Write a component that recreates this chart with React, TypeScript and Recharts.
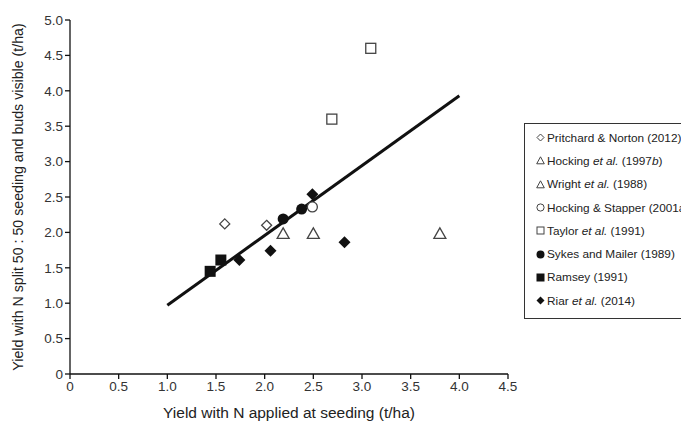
import React from 'react';
import { ScatterChart, Scatter, XAxis, YAxis } from 'recharts';

const xTicks = [0, 0.5, 1.0, 1.5, 2.0, 2.5, 3.0, 3.5, 4.0, 4.5];
const yTicks = [0, 0.5, 1.0, 1.5, 2.0, 2.5, 3.0, 3.5, 4.0, 4.5, 5.0];

const pritchard = [{ x: 1.59, y: 2.12 }, { x: 2.02, y: 2.1 }];
const hocking1997 = [{ x: 2.19, y: 1.98 }, { x: 2.5, y: 1.98 }];
const wright = [{ x: 3.8, y: 1.98 }];
const hockingStapper = [{ x: 2.49, y: 2.36 }];
const taylor = [{ x: 2.69, y: 3.6 }, { x: 3.09, y: 4.6 }];
const sykes = [{ x: 2.19, y: 2.19 }, { x: 2.38, y: 2.33 }];
const ramsey = [{ x: 1.44, y: 1.45 }, { x: 1.55, y: 1.61 }];
const riar = [{ x: 1.74, y: 1.61 }, { x: 2.06, y: 1.74 }, { x: 2.49, y: 2.54 }, { x: 2.82, y: 1.86 }];
const fitLine = [{ x: 1.0, y: 0.97 }, { x: 4.0, y: 3.93 }];

const OPEN = '#444';
const FILL = '#111';
const FONT = '"Liberation Sans", Arial, sans-serif';

const OpenDiamond = (p: any) => (
  <polygon points={`${p.cx},${p.cy - 5} ${p.cx + 5},${p.cy} ${p.cx},${p.cy + 5} ${p.cx - 5},${p.cy}`} fill="#fff" stroke={OPEN} strokeWidth={1.3} />
);
const OpenTriangle = (p: any) => (
  <polygon points={`${p.cx},${p.cy - 6} ${p.cx + 6},${p.cy + 4.5} ${p.cx - 6},${p.cy + 4.5}`} fill="#fff" stroke={OPEN} strokeWidth={1.3} />
);
const OpenCircle = (p: any) => <circle cx={p.cx} cy={p.cy} r={5} fill="#fff" stroke={OPEN} strokeWidth={1.3} />;
const OpenSquare = (p: any) => <rect x={p.cx - 5} y={p.cy - 5} width={10} height={10} fill="#fff" stroke={OPEN} strokeWidth={1.3} />;
const FilledCircle = (p: any) => <circle cx={p.cx} cy={p.cy} r={5.5} fill={FILL} />;
const FilledSquare = (p: any) => <rect x={p.cx - 5.5} y={p.cy - 5.5} width={11} height={11} fill={FILL} />;
const FilledDiamond = (p: any) => (
  <polygon points={`${p.cx},${p.cy - 6} ${p.cx + 6},${p.cy} ${p.cx},${p.cy + 6} ${p.cx - 6},${p.cy}`} fill={FILL} />
);
const NoShape = () => null;

const legendItems: { sym: string; label: React.ReactNode }[] = [
  { sym: 'od', label: <>Pritchard &amp; Norton (2012)</> },
  { sym: 'ot', label: <>Hocking <i>et al.</i> (1997<i>b</i>)</> },
  { sym: 'ot', label: <>Wright <i>et al.</i> (1988)</> },
  { sym: 'oc', label: <>Hocking &amp; Stapper (2001a)</> },
  { sym: 'os', label: <>Taylor <i>et al.</i> (1991)</> },
  { sym: 'fc', label: <>Sykes and Mailer (1989)</> },
  { sym: 'fs', label: <>Ramsey (1991)</> },
  { sym: 'fd', label: <>Riar <i>et al.</i> (2014)</> },
];

const LegendSym = ({ sym }: { sym: string }) => {
  const c = 4.5;
  let el: React.ReactNode = null;
  if (sym === 'od') el = <polygon points="4.5,1 8,4.5 4.5,8 1,4.5" fill="#fff" stroke={OPEN} strokeWidth={1} />;
  if (sym === 'ot') el = <polygon points="4.5,0.8 8.3,7.8 0.7,7.8" fill="#fff" stroke={OPEN} strokeWidth={1} />;
  if (sym === 'oc') el = <circle cx={c} cy={c} r={3.6} fill="#fff" stroke={OPEN} strokeWidth={1} />;
  if (sym === 'os') el = <rect x={1} y={1} width={7} height={7} fill="#fff" stroke={OPEN} strokeWidth={1} />;
  if (sym === 'fc') el = <circle cx={c} cy={c} r={4} fill={FILL} />;
  if (sym === 'fs') el = <rect x={0.5} y={0.5} width={8} height={8} fill={FILL} />;
  if (sym === 'fd') el = <polygon points="4.5,0.5 8.5,4.5 4.5,8.5 0.5,4.5" fill={FILL} />;
  return (
    <svg width={9} height={9} style={{ marginRight: 2, flexShrink: 0 }}>
      {el}
    </svg>
  );
};

const LegendBox = () => (
  <div
    style={{
      position: 'absolute',
      left: 524,
      top: 123,
      border: '1px solid #333',
      width: 190,
      height: 196,
      boxSizing: 'border-box',
      padding: '2px 0 0 11px',
      fontFamily: FONT,
      fontSize: 11.8,
      color: '#222',
      background: '#fff',
    }}
  >
    {legendItems.map((it, i) => (
      <div key={i} style={{ display: 'flex', alignItems: 'center', height: 23.3, whiteSpace: 'nowrap' }}>
        <LegendSym sym={it.sym} />
        <span>{it.label}</span>
      </div>
    ))}
  </div>
);

const fmt = (v: number) => (v === 0 ? '0' : v.toFixed(1));
const tickStyle = { fontFamily: FONT, fontSize: 13.5, fill: '#333' };

export default function App() {
  return (
    <div style={{ position: 'absolute', left: 0, top: 0, width: 681, height: 425, overflow: 'hidden', background: '#fff' }}>
      <ScatterChart width={681} height={425} margin={{ top: 20, right: 173, bottom: 0, left: 0 }}>
        <XAxis
          type="number"
          dataKey="x"
          domain={[0, 4.5]}
          ticks={xTicks}
          tickFormatter={fmt}
          height={51}
          tick={tickStyle}
          tickSize={5}
          stroke="#111"
          strokeWidth={1.3}
          allowDataOverflow
          label={{
            value: 'Yield with N applied at seeding (t/ha)',
            position: 'insideBottom',
            offset: 7,
            style: { fontFamily: FONT, fontSize: 15.5, fill: '#222' },
          }}
        />
        <YAxis
          type="number"
          dataKey="y"
          domain={[0, 5]}
          ticks={yTicks}
          tickFormatter={fmt}
          width={70}
          tick={tickStyle}
          tickSize={5}
          stroke="#111"
          strokeWidth={1.3}
          allowDataOverflow
          label={{
            value: 'Yield with N split 50 : 50 seeding and buds visible (t/ha)',
            angle: -90,
            position: 'insideLeft',
            offset: 18,
            style: { textAnchor: 'middle', fontFamily: FONT, fontSize: 14.2, fill: '#222' },
          }}
        />
        <Scatter name="fit" data={fitLine} line={{ stroke: '#111', strokeWidth: 3 }} shape={NoShape} isAnimationActive={false} legendType="none" />
        <Scatter name="Pritchard & Norton (2012)" data={pritchard} shape={OpenDiamond} isAnimationActive={false} />
        <Scatter name="Hocking et al. (1997b)" data={hocking1997} shape={OpenTriangle} isAnimationActive={false} />
        <Scatter name="Wright et al. (1988)" data={wright} shape={OpenTriangle} isAnimationActive={false} />
        <Scatter name="Hocking & Stapper (2001a)" data={hockingStapper} shape={OpenCircle} isAnimationActive={false} />
        <Scatter name="Taylor et al. (1991)" data={taylor} shape={OpenSquare} isAnimationActive={false} />
        <Scatter name="Sykes and Mailer (1989)" data={sykes} shape={FilledCircle} isAnimationActive={false} />
        <Scatter name="Ramsey (1991)" data={ramsey} shape={FilledSquare} isAnimationActive={false} />
        <Scatter name="Riar et al. (2014)" data={riar} shape={FilledDiamond} isAnimationActive={false} />
      </ScatterChart>
      <LegendBox />
    </div>
  );
}
